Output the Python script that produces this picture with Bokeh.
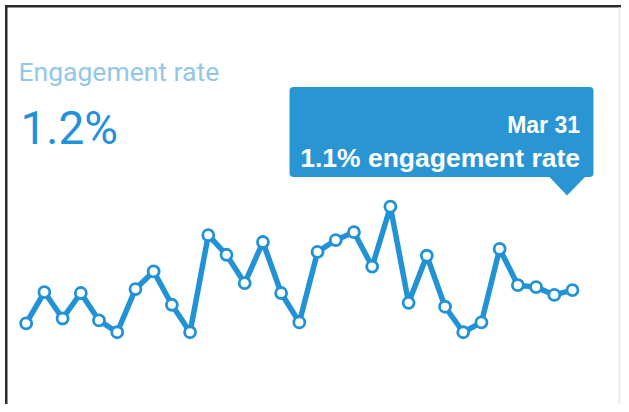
from bokeh.plotting import figure
from bokeh.models import Label, BoxAnnotation, PolyAnnotation, Range1d
from bokeh.embed import file_html
from bokeh.resources import INLINE

# ---- data ----
days = list(range(1, 32))  # Mar 1 .. Mar 31
rate = [0.76, 1.08, 0.81, 1.07, 0.79, 0.67, 1.11, 1.29, 0.95, 0.67,
        1.66, 1.46, 1.17, 1.59, 1.07, 0.77, 1.49, 1.61, 1.69, 1.34,
        1.95, 0.97, 1.45, 0.93, 0.67, 0.77, 1.52, 1.15, 1.13, 1.05, 1.10]
title_text = "Engagement rate"
total_text = "1.2%"
tip_date = "Mar 31"
tip_text = "1.1% engagement rate"

LINE = "#2292d6"
BOX = "#2a95d3"

W, H = 621, 404
x_start, x_end = -0.41, 33.69
y_start, y_end = -0.067, 4.053

p = figure(width=W, height=H, output_backend="svg", toolbar_location=None,
           x_range=Range1d(x_start, x_end), y_range=Range1d(y_start, y_end),
           min_border=0, background_fill_color="white", border_fill_color="white")
p.axis.visible = False
p.grid.visible = False
p.outline_line_color = None

def sbox(l, r, t, b, color):
    return BoxAnnotation(left=l, right=r, top=t, bottom=b,
                         left_units="screen", right_units="screen",
                         top_units="screen", bottom_units="screen",
                         fill_color=color, fill_alpha=1.0, line_color=None)

# border of the screenshot frame (left, top dark; right faint)
p.add_layout(sbox(4.5, 7, H - 4.5, -5, "#2a2a2a"))
p.add_layout(sbox(4.5, W + 5, H - 4.5, H - 7, "#2a2a2a"))
p.add_layout(sbox(618, 620, H - 7, -5, "#ececec"))

p.line(days, rate, line_color=LINE, line_width=5.5, line_join="round")
p.scatter(days, rate, size=11, fill_color="white", line_color=LINE, line_width=2.8)

# headline texts
p.add_layout(Label(x=18, y=H - 70.5, x_units="screen", y_units="screen", text=title_text,
                   text_font="Roboto", text_font_size="26.5px", text_color="#93c7ea",
                   text_baseline="alphabetic"))
p.add_layout(Label(x=20, y=H - 127, x_units="screen", y_units="screen", text=total_text,
                   text_font="Roboto", text_font_size="46px", text_color="#2391d8",
                   text_baseline="alphabetic"))

# tooltip
tip_box = sbox(289, 593, H - 86.5, H - 176.5, BOX)
tip_box.border_radius = 4
p.add_layout(tip_box)
p.add_layout(PolyAnnotation(xs=[548, 585.5, 566.5], ys=[H - 175.5, H - 175.5, H - 195],
                            xs_units="screen", ys_units="screen",
                            fill_color=BOX, fill_alpha=1.0, line_color=None))
p.add_layout(Label(x=579.5, y=H - 124.2, x_units="screen", y_units="screen", text=tip_date,
                   text_font="Liberation Sans", text_font_size="23px", text_font_style="bold",
                   text_color="white", text_align="right", text_baseline="alphabetic"))
p.add_layout(Label(x=579.5, y=H - 157.6, x_units="screen", y_units="screen", text=tip_text,
                   text_font="Liberation Sans", text_font_size="26.5px", text_font_style="bold",
                   text_color="white", text_align="right", text_baseline="alphabetic"))

open("out.html", "w").write(file_html(p, INLINE))
